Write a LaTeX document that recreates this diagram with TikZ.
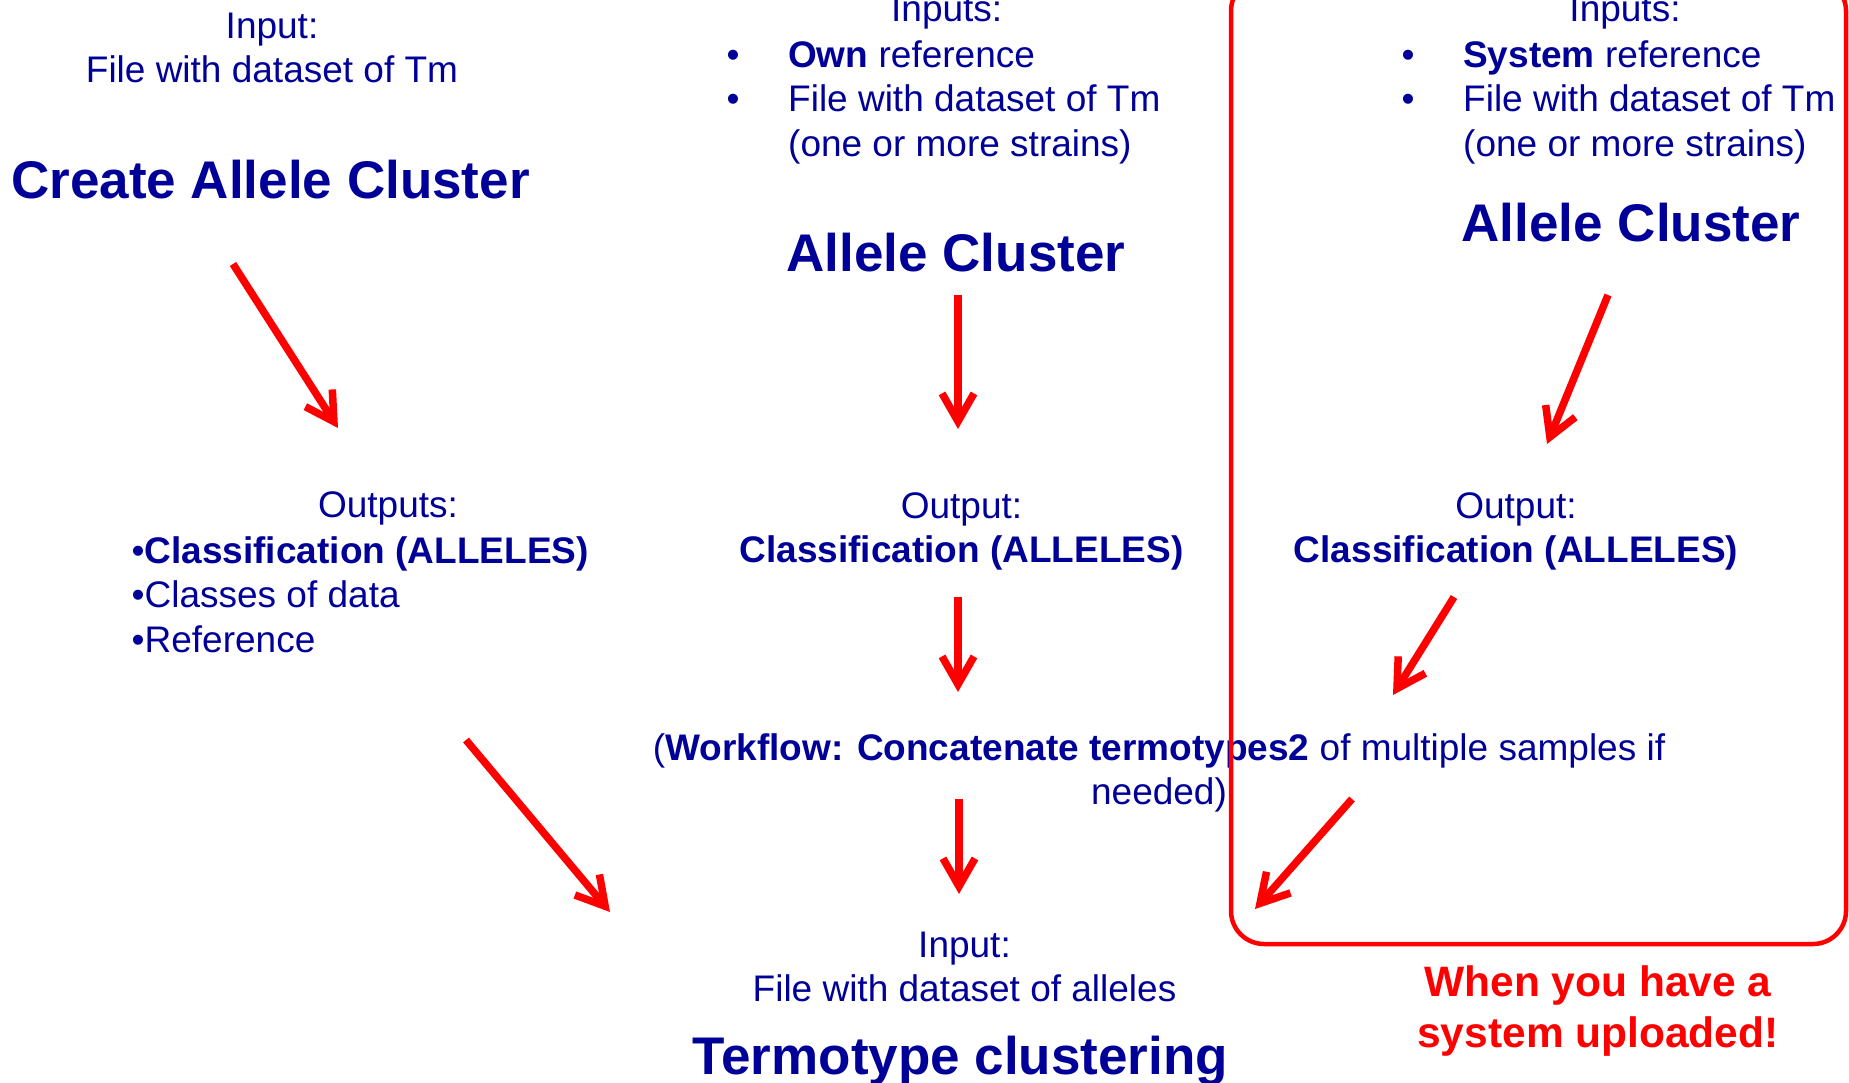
\documentclass[tikz,border=0pt]{standalone}
\usepackage{fontspec}
\setmainfont{Liberation Sans}
\usetikzlibrary{arrows.meta}
\definecolor{txtblue}{RGB}{0,0,153}

\begin{document}
\begin{tikzpicture}[x=1pt, y=-1pt,
    txt/.style = {font=\fontsize{37}{44.4}\selectfont, text=txtblue, inner sep=0},
    ttl/.style = {font=\fontsize{53}{60}\selectfont\bfseries, text=txtblue, inner sep=0, anchor=base},
    note/.style = {font=\fontsize{42.5}{51.5}\selectfont\bfseries, text=red, inner sep=0, align=center, anchor=north},
    arr/.style = {red, line width=7.5pt, -{Straight Barb[length=28pt, width=32pt]}}]

    \useasboundingbox (0, 0) rectangle (1849, 1082);
    \clip (0, 0) rectangle (1849, 1082);

    \node[txt, align=center, anchor=north] (in1) at (272, 12.5) {Input:\\File with dataset of Tm};
    \node[ttl] (cac) at (270.5, 198) {Create Allele Cluster};
    \node[txt, anchor=base] (out1) at (388, 517.5) {Outputs:};
    \node[txt, align=left, anchor=north west] (lst1) at (131.5, 536.5) {•\textbf{Classification (ALLELES)}\\•Classes of data\\•Reference};

    \node[txt, anchor=base] (in2) at (946.7, 21.7) {Inputs:};
    \node[txt, align=left, anchor=north west] (lst2) at (726.5, 40.5) {\makebox[61.5pt][l]{•}\textbf{Own} reference\\\makebox[61.5pt][l]{•}File with dataset of Tm\\\makebox[61.5pt]{}(one or more strains)};
    \node[ttl] (ac2) at (956, 271.7) {Allele Cluster};
    \node[txt, align=center, anchor=north] (out2) at (961.5, 492) {Output:\\\textbf{Classification (ALLELES)}};
    \node[txt, align=center, anchor=north] (wf) at (1159, 733) {(\textbf{Workflow: Concatenate termotypes2} of multiple samples if\\needed)};
    \node[txt, align=center, anchor=north] (in3) at (964.5, 931.5) {Input:\\File with dataset of alleles};
    \node[ttl] (tc) at (960.5, 1074) {Termotype clustering};

    \node[txt, anchor=base] (in4) at (1625, 21.7) {Inputs:};
    \node[txt, align=left, anchor=north west] (lst4) at (1401.5, 40.5) {\makebox[61.5pt][l]{•}\textbf{System} reference\\\makebox[61.5pt][l]{•}File with dataset of Tm\\\makebox[61.5pt]{}(one or more strains)};
    \node[ttl] (ac4) at (1631, 241.7) {Allele Cluster};
    \node[txt, align=center, anchor=north] (out4) at (1516, 492) {Output:\\\textbf{Classification (ALLELES)}};
    \node[note] (sys) at (1598, 965) {When you have a\\system uploaded!};

    \draw [red, line width=4.5pt, rounded corners=33pt] (1231, -22) rectangle (1846, 944);

    \coordinate (a1) at (233, 264);
    \coordinate (b1) at (338, 428);
    \coordinate (a2) at (466, 740);
    \coordinate (b2) at (610, 912);
    \coordinate (a3) at (958, 295);
    \coordinate (b3) at (958, 429);
    \coordinate (a4) at (958, 597);
    \coordinate (b4) at (958, 692);
    \coordinate (a5) at (959, 799);
    \coordinate (b5) at (959, 894);
    \coordinate (a6) at (1608, 295);
    \coordinate (b6) at (1547, 444);
    \coordinate (a7) at (1454, 597);
    \coordinate (b7) at (1393, 695);
    \coordinate (a8) at (1352, 799);
    \coordinate (b8) at (1255, 909);

    \draw [arr] (a1) -- (b1);
    \draw [arr] (a2) -- (b2);
    \draw [arr] (a3) -- (b3);
    \draw [arr] (a4) -- (b4);
    \draw [arr] (a5) -- (b5);
    \draw [arr] (a6) -- (b6);
    \draw [arr] (a7) -- (b7);
    \draw [arr] (a8) -- (b8);

\end{tikzpicture}
\end{document}
